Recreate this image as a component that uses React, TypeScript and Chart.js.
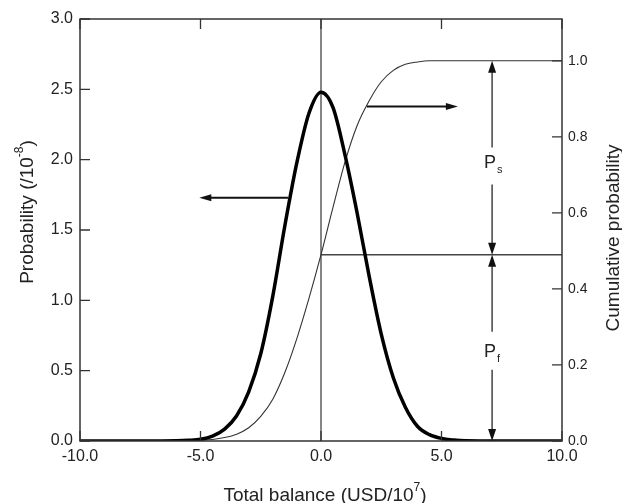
import React, { useEffect, useRef } from 'react';
import { Chart, registerables } from 'chart.js';
Chart.register(...registerables);

// ---- data ----
const pdfX = [-10, -8, -6, -5.5, -5, -4.5, -4, -3.5, -3, -2.5, -2, -1.5, -1, -0.5, 0, 0.5, 1, 1.5, 2, 2.5, 3, 3.5, 4, 4.5, 5, 5.5, 6, 8, 10];
const pdfY = [0, 0, 0.002, 0.005, 0.012, 0.035, 0.085, 0.18, 0.35, 0.62, 1.03, 1.53, 1.98, 2.33, 2.48, 2.37, 2.03, 1.62, 1.17, 0.76, 0.45, 0.24, 0.105, 0.045, 0.018, 0.007, 0.002, 0, 0];

const cdfX = [-10, -6, -5, -4.5, -4, -3.5, -3, -2.5, -2, -1.5, -1, -0.5, 0, 0.5, 1, 1.5, 2, 2.5, 3, 3.5, 4, 4.5, 5, 6, 8, 10];
const cdfY = [0, 0, 0.002, 0.004, 0.009, 0.018, 0.035, 0.065, 0.11, 0.18, 0.27, 0.375, 0.49, 0.615, 0.735, 0.83, 0.895, 0.945, 0.975, 0.991, 0.997, 1.0, 1.0, 1.0, 1.0, 1.0];

const xTickValues = [-10, -5, 0, 5, 10];
const yTickValues = [0, 0.5, 1, 1.5, 2, 2.5, 3];
const y2TickValues = [0, 0.2, 0.4, 0.6, 0.8, 1.0];

const splitValue = 0.49; // P_f / P_s boundary (cumulative)
const arrowXValue = 7.1; // x of the double arrows
const leftArrow = { fromX: -1.37, toX: -5.05, y: 1.73 }; // on probability axis
const rightArrow = { fromX: 1.9, toX: 5.68, y: 0.88 }; // on cumulative axis
const psLabelValue = 0.735;
const pfLabelValue = 0.24;

const FONT = "'Liberation Sans', Arial, sans-serif";
const TEXT = '#222';
const AXIS = '#333';

type Part = { text: string; size: number; dy: number };

function drawRich(ctx: CanvasRenderingContext2D, parts: Part[], cx: number, baseline: number) {
  let total = 0;
  const widths = parts.map((p) => {
    ctx.font = `${p.size}px ${FONT}`;
    const w = ctx.measureText(p.text).width;
    total += w;
    return w;
  });
  let x = cx - total / 2;
  ctx.textAlign = 'left';
  ctx.textBaseline = 'alphabetic';
  parts.forEach((p, i) => {
    ctx.font = `${p.size}px ${FONT}`;
    ctx.fillText(p.text, x, baseline + p.dy);
    x += widths[i];
  });
}

function arrowHead(ctx: CanvasRenderingContext2D, tipX: number, tipY: number, dx: number, dy: number, len: number, half: number) {
  // dx,dy: unit direction of the arrow (pointing to the tip)
  const bx = tipX - dx * len;
  const by = tipY - dy * len;
  const px = -dy, py = dx;
  ctx.beginPath();
  ctx.moveTo(tipX, tipY);
  ctx.lineTo(bx + px * half, by + py * half);
  ctx.lineTo(bx - px * half, by - py * half);
  ctx.closePath();
  ctx.fill();
}

const annotPlugin = {
  id: 'annot',
  afterDatasetsDraw(chart: any) {
    const { ctx, chartArea: ca, scales } = chart;
    const sx = scales.x, sy = scales.y, sy2 = scales.y2;
    ctx.save();

    // frame
    ctx.strokeStyle = AXIS;
    ctx.lineWidth = 1.5;
    ctx.strokeRect(ca.left, ca.top, ca.right - ca.left, ca.bottom - ca.top);

    // inward ticks
    const TL = 10;
    ctx.lineWidth = 1.3;
    ctx.beginPath();
    xTickValues.forEach((v) => {
      const px = sx.getPixelForValue(v);
      ctx.moveTo(px, ca.bottom);
      ctx.lineTo(px, ca.bottom - TL);
      ctx.moveTo(px, ca.top);
      ctx.lineTo(px, ca.top + TL);
    });
    yTickValues.forEach((v) => {
      const py = sy.getPixelForValue(v);
      ctx.moveTo(ca.left, py);
      ctx.lineTo(ca.left + TL, py);
    });
    y2TickValues.forEach((v) => {
      const py = sy2.getPixelForValue(v);
      ctx.moveTo(ca.right, py);
      ctx.lineTo(ca.right - TL, py);
    });
    ctx.stroke();

    // horizontal arrows
    ctx.strokeStyle = '#111';
    ctx.fillStyle = '#111';
    ctx.lineWidth = 2;
    {
      const y = sy.getPixelForValue(leftArrow.y);
      const x1 = sx.getPixelForValue(leftArrow.fromX);
      const x2 = sx.getPixelForValue(leftArrow.toX);
      ctx.beginPath();
      ctx.moveTo(x1, y);
      ctx.lineTo(x2 + 6, y);
      ctx.stroke();
      arrowHead(ctx, x2, y, -1, 0, 12, 3.5);
    }
    {
      const y = sy2.getPixelForValue(rightArrow.y);
      const x1 = sx.getPixelForValue(rightArrow.fromX);
      const x2 = sx.getPixelForValue(rightArrow.toX);
      ctx.beginPath();
      ctx.moveTo(x1, y);
      ctx.lineTo(x2 - 6, y);
      ctx.stroke();
      arrowHead(ctx, x2, y, 1, 0, 12, 3.5);
    }

    // vertical double arrows
    const ax = sx.getPixelForValue(arrowXValue);
    const yTop = sy2.getPixelForValue(1.0);
    const yMid = sy2.getPixelForValue(splitValue);
    const yBot = sy2.getPixelForValue(0);
    const yPs = sy2.getPixelForValue(psLabelValue);
    const yPf = sy2.getPixelForValue(pfLabelValue);
    ctx.strokeStyle = '#444';
    ctx.lineWidth = 1.5;
    ctx.beginPath();
    ctx.moveTo(ax, yTop + 4);
    ctx.lineTo(ax, yPs - 14);
    ctx.moveTo(ax, yPs + 23);
    ctx.lineTo(ax, yMid - 4);
    ctx.moveTo(ax, yMid + 4);
    ctx.lineTo(ax, yPf - 18);
    ctx.moveTo(ax, yPf + 20);
    ctx.lineTo(ax, yBot - 4);
    ctx.stroke();
    ctx.fillStyle = '#111';
    arrowHead(ctx, ax, yTop, 0, -1, 12, 4);
    arrowHead(ctx, ax, yMid, 0, 1, 12, 4);
    arrowHead(ctx, ax, yMid, 0, -1, 12, 4);
    arrowHead(ctx, ax, yBot, 0, 1, 12, 4);

    // P labels
    ctx.fillStyle = TEXT;
    ctx.textAlign = 'left';
    ctx.textBaseline = 'alphabetic';
    ctx.font = `18px ${FONT}`;
    ctx.fillText('P', ax - 8, yPs + 6);
    ctx.font = `11px ${FONT}`;
    ctx.fillText('s', ax + 5, yPs + 11);
    ctx.font = `18px ${FONT}`;
    ctx.fillText('P', ax - 8, yPf + 7);
    ctx.font = `11px ${FONT}`;
    ctx.fillText('f', ax + 5, yPf + 12);

    // axis titles
    ctx.fillStyle = TEXT;
    drawRich(
      ctx,
      [
        { text: 'Total balance (USD/10', size: 19, dy: 0 },
        { text: '7', size: 12, dy: -10 },
        { text: ')', size: 19, dy: 0 },
      ],
      (ca.left + ca.right) / 2 + 4,
      501
    );

    ctx.save();
    ctx.translate(33, 212);
    ctx.rotate(-Math.PI / 2);
    drawRich(
      ctx,
      [
        { text: 'Probability (/10', size: 19, dy: 0 },
        { text: '-8', size: 12, dy: -10 },
        { text: ')', size: 19, dy: 0 },
      ],
      0,
      0
    );
    ctx.restore();

    ctx.save();
    ctx.translate(619, 238);
    ctx.rotate(-Math.PI / 2);
    drawRich(ctx, [{ text: 'Cumulative probability', size: 19, dy: 0 }], 0, 0);
    ctx.restore();

    ctx.restore();
  },
};

export default function App() {
  const ref = useRef<HTMLCanvasElement | null>(null);

  useEffect(() => {
    if (!ref.current) return;
    const chart = new Chart(ref.current, {
      type: 'line',
      data: {
        datasets: [
          {
            label: 'Probability',
            data: pdfX.map((x, i) => ({ x, y: pdfY[i] })),
            yAxisID: 'y',
            borderColor: '#000',
            borderWidth: 3.5,
            pointRadius: 0,
            cubicInterpolationMode: 'monotone',
            fill: false,
          },
          {
            label: 'Cumulative probability',
            data: cdfX.map((x, i) => ({ x, y: cdfY[i] })),
            yAxisID: 'y2',
            borderColor: '#333',
            borderWidth: 1.1,
            pointRadius: 0,
            cubicInterpolationMode: 'monotone',
            fill: false,
          },
          {
            label: 'zero',
            data: [
              { x: 0, y: 0 },
              { x: 0, y: 3 },
            ],
            yAxisID: 'y',
            borderColor: '#444',
            borderWidth: 1.3,
            pointRadius: 0,
          },
          {
            label: 'split',
            data: [
              { x: 0, y: splitValue },
              { x: 10, y: splitValue },
            ],
            yAxisID: 'y2',
            borderColor: '#444',
            borderWidth: 1.5,
            pointRadius: 0,
          },
        ],
      },
      options: {
        animation: false,
        responsive: false,
        layout: { padding: { top: 19, left: 0, right: 0, bottom: 0 } },
        plugins: { legend: { display: false }, tooltip: { enabled: false } },
        scales: {
          x: {
            type: 'linear',
            min: -10,
            max: 10,
            grid: { display: false, drawTicks: false },
            border: { display: false },
            ticks: {
              stepSize: 5,
              padding: 6,
              color: TEXT,
              font: { family: FONT, size: 16 },
              maxRotation: 0,
              callback: (v: any) => Number(v).toFixed(1),
            },
            afterFit: (s: any) => {
              s.height = 62;
            },
          },
          y: {
            type: 'linear',
            position: 'left',
            min: 0,
            max: 3,
            grid: { display: false, drawTicks: false },
            border: { display: false },
            ticks: {
              stepSize: 0.5,
              padding: 7,
              color: TEXT,
              font: { family: FONT, size: 16 },
              callback: (v: any) => Number(v).toFixed(1),
            },
            afterFit: (s: any) => {
              s.width = 80;
            },
          },
          y2: {
            type: 'linear',
            position: 'right',
            min: 0,
            max: 1.11,
            grid: { display: false, drawTicks: false },
            border: { display: false },
            ticks: {
              stepSize: 0.2,
              padding: 6,
              color: TEXT,
              font: { family: FONT, size: 14 },
              callback: (v: any) => Number(v).toFixed(1),
            },
            afterBuildTicks: (s: any) => {
              s.ticks = s.ticks.filter((t: any) => Math.abs(t.value * 5 - Math.round(t.value * 5)) < 1e-6);
            },
            afterFit: (s: any) => {
              s.width = 60;
            },
          },
        },
      },
      plugins: [annotPlugin],
    } as any);
    return () => chart.destroy();
  }, []);

  return (
    <div style={{ position: 'absolute', left: 0, top: 0, width: 622, height: 503, background: '#fff' }}>
      <canvas ref={ref} width={622} height={503} style={{ display: 'block' }} />
    </div>
  );
}
